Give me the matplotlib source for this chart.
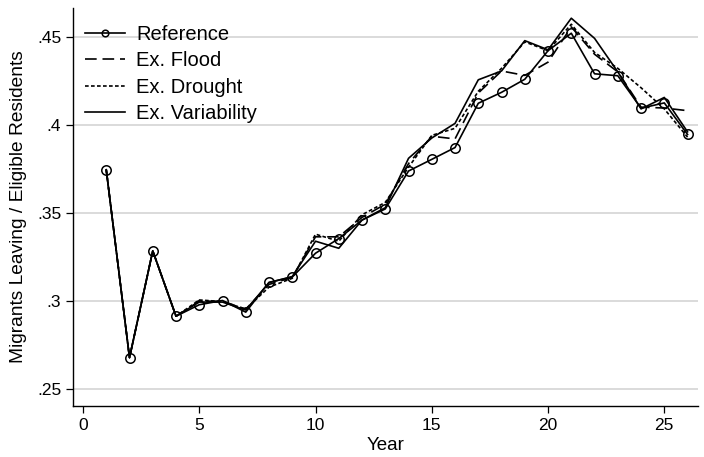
import numpy as np
import matplotlib
matplotlib.use("Agg")
import matplotlib.pyplot as plt

plt.rcParams['font.family'] = ['Liberation Sans', 'DejaVu Sans']

# ========== DATA ==========
years = list(range(1, 27))
reference = [.3745, .268, .3285, .2915, .298, .3004, .2938, .3107, .3137, .3272,
             .3355, .346, .3523, .3738, .3804, .3871, .4122, .4184, .4258, .442,
             .4519, .4289, .4278, .4094, .4124, .3945]
ex_flood = [.3745, .268, .3285, .2915, .300, .300, .2955, .3095, .3135, .3365,
            .3365, .3475, .355, .378, .3935, .392, .418, .4305, .428, .4355,
            .4555, .440, .430, .410, .4095, .408]
ex_drought = [.3745, .268, .3285, .2915, .3007, .2998, .2955, .308, .313, .338,
              .334, .349, .356, .376, .394, .398, .419, .432, .447, .442,
              .457, .441, .432, .421, .409, .393]
ex_variability = [.3745, .268, .3285, .2915, .2995, .2995, .295, .3105, .314, .334,
                  .330, .346, .353, .381, .3925, .4008, .4255, .4305, .4477, .4425,
                  .4604, .449, .430, .409, .4155, .396]

yticks = [.25, .3, .35, .4, .45]
ytick_labels = ['.25', '.3', '.35', '.4', '.45']
xticks = [0, 5, 10, 15, 20, 25]

# ========== PLOT ==========
fig = plt.figure(figsize=(7.04, 4.57), dpi=100)
ax = fig.add_axes([0.1037, 0.1116, 0.8878, 0.8709])

lw = 1.2
ax.plot(years, reference, color='black', lw=lw, marker='o', markersize=6.8,
        markerfacecolor='none', markeredgewidth=1.1, label='Reference', zorder=5)
ax.plot(years, ex_flood, color='black', lw=lw, dashes=(7, 3.5), label='Ex. Flood', zorder=4)
ax.plot(years, ex_drought, color='black', lw=lw, dashes=(2.2, 1.4), label='Ex. Drought', zorder=3)
ax.plot(years, ex_variability, color='black', lw=lw, label='Ex. Variability', zorder=2)

ax.set_xlim(-0.43, 26.45)
ax.set_ylim(.2406, .4662)
ax.set_xticks(xticks)
ax.set_yticks(yticks)
ax.set_yticklabels(ytick_labels)
ax.tick_params(axis='both', direction='out', length=5, width=0.9, labelsize=12.5, color='black')
ax.grid(axis='y', color='#d4d4d4', lw=1.2)
ax.set_axisbelow(True)

for side in ['top', 'right']:
    ax.spines[side].set_visible(False)
for side in ['left', 'bottom']:
    ax.spines[side].set_linewidth(1.0)

ax.set_xlabel('Year', fontsize=13.5, labelpad=3)
ax.set_ylabel('Migrants Leaving / Eligible Residents', fontsize=13.8, labelpad=7)

leg = ax.legend(loc='upper left', frameon=False, fontsize=14.5, handlelength=2.0,
                handletextpad=0.55, labelspacing=0.36, borderaxespad=0.0,
                markerscale=0.7, bbox_to_anchor=(4 / 625, 1 - 9 / 398))

plt.savefig("out.png", dpi=100)
